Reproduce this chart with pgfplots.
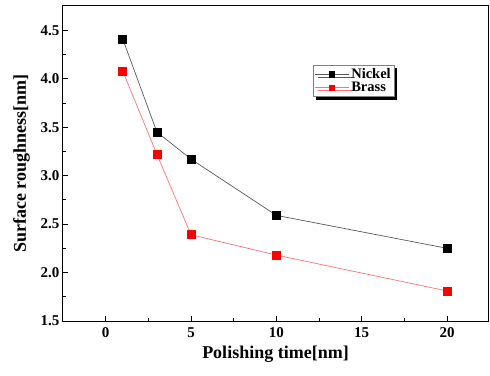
\documentclass[border=0pt]{standalone}
\usepackage{fontspec}
\setmainfont{Liberation Serif}
\usepackage{pgfplots}
\pgfplotsset{compat=1.18}
\usetikzlibrary{shadows}
\begin{document}
\begin{tikzpicture}
\begin{axis}[
  scale only axis,
  width=425pt, height=315pt,
  xmin=-2.5, xmax=22.4,
  ymin=1.5, ymax=4.75,
  xtick={0,5,10,15,20},
  ytick={1.5,2.0,2.5,3.0,3.5,4.0,4.5},
  minor x tick num=1,
  minor y tick num=1,
  tick align=inside,
  major tick length=5pt,
  minor tick length=3pt,
  tick style={black, line width=0.8pt},
  axis line style={line width=1pt},
  yticklabel style={/pgf/number format/fixed, /pgf/number format/fixed zerofill, /pgf/number format/precision=1},
  /pgf/number format/assume math mode=true,
  ticklabel style={font=\fontsize{15}{17}\selectfont\bfseries},
  xticklabel style={yshift=-3pt},
  xtick pos=bottom, ytick pos=left,
  xlabel={Polishing time[nm]},
  ylabel={Surface roughness[nm]},
  label style={font=\fontsize{18}{20}\selectfont\bfseries},
  xlabel style={yshift=-1pt},
  ylabel style={yshift=4pt},
  legend style={at={(0.588,0.813)}, anchor=north west, draw=gray, fill=white,
    drop shadow={shadow xshift=3pt, shadow yshift=-3pt, fill=black, opacity=1},
    font=\fontsize{14.5}{16}\selectfont\bfseries, inner sep=1.5pt, row sep=-2pt,
    /tikz/every even column/.append style={column sep=0pt}},
  legend cell align=left,
  legend image code/.code={
    \draw[#1, mark repeat=2, mark phase=2] plot coordinates {(0pt,0pt) (17pt,0pt) (34pt,0pt)};
  },
]
\addplot[color=black!65, line width=0.7pt, mark=square*, mark size=4pt, mark options={fill=black, draw=black, solid},
  legend image post style={mark size=2.6pt}]
  coordinates {(1,4.41) (3,3.45) (5,3.17) (10,2.59) (20,2.25)};
\addlegendentry{Nickel}
\addplot[color=red!55, line width=0.7pt, mark=square*, mark size=4pt, mark options={fill=red, draw=red, solid},
  legend image post style={mark size=2.6pt}]
  coordinates {(1,4.08) (3,3.22) (5,2.39) (10,2.18) (20,1.81)};
\addlegendentry{Brass}
\end{axis}
\path ([xshift=-63pt,yshift=-54pt]current axis.south west) rectangle ([xshift=2pt,yshift=6pt]current axis.north east);
\end{tikzpicture}
\end{document}
